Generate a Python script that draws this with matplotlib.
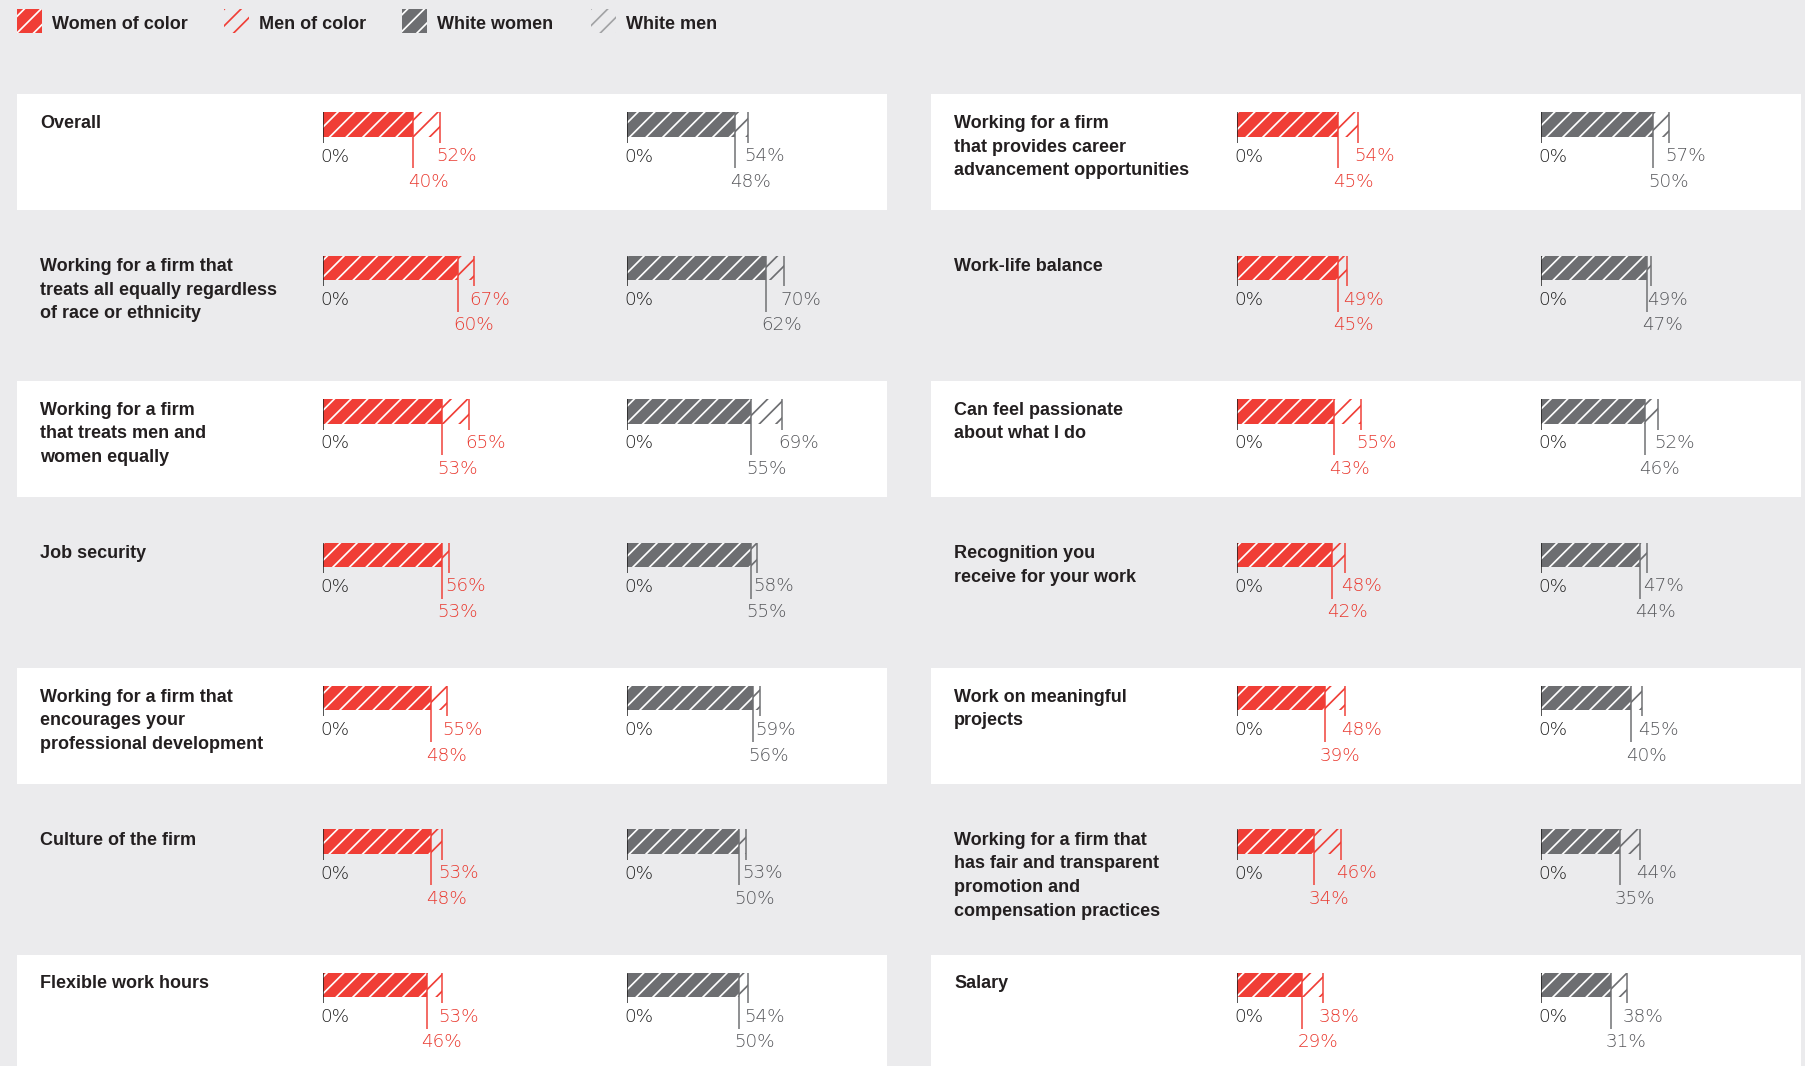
"""
Job factors chart - women/men of color vs white women/men
"""

import matplotlib.pyplot as plt
from matplotlib.patches import Rectangle

# data
legend_labels = ['Women of color', 'Men of color', 'White women', 'White men']

labels_left = [
    'Overall',
    'Working for a firm that\ntreats all equally regardless\nof race or ethnicity',
    'Working for a firm\nthat treats men and\nwomen equally',
    'Job security',
    'Working for a firm that\nencourages your\nprofessional development',
    'Culture of the firm',
    'Flexible work hours',
]
labels_right = [
    'Working for a firm\nthat provides career\nadvancement opportunities',
    'Work-life balance',
    'Can feel passionate\nabout what I do',
    'Recognition you\nreceive for your work',
    'Work on meaningful\nprojects',
    'Working for a firm that\nhas fair and transparent\npromotion and\ncompensation practices',
    'Salary',
]

woc_left = [40, 60, 53, 53, 48, 48, 46]
moc_left = [52, 67, 65, 56, 55, 53, 53]
ww_left = [48, 62, 55, 55, 56, 50, 50]
wm_left = [54, 70, 69, 58, 59, 53, 54]

woc_right = [45, 45, 43, 42, 39, 34, 29]
moc_right = [54, 49, 55, 48, 48, 46, 38]
ww_right = [50, 47, 46, 44, 40, 35, 31]
wm_right = [57, 49, 52, 47, 45, 44, 38]

# style
BG = '#ebebed'
RED = '#f03e36'
RED_TXT = '#e9382e'
GRAY = '#6d6e71'
GRAY_TXT = '#55565a'
LIGHT_GRAY = '#a2a3a5'
DARK = '#231f20'
ZERO = '#1e1e1e'

W, H = 1806, 1066
DPI = 100
ROW0 = 94.4
PITCH = 143.4
PANEL_H = 116
PANEL_W = 870
PANEL_X = [17, 931]
GROUP_DX = [306.5, 610.5]
SCALE = 2.24  # px per percent


def pt(px):
    # pixels -> points at the figure dpi
    return px * 72 / DPI


TITLE_FONT = dict(family='Liberation Sans', fontweight='bold', fontsize=pt(18), color=DARK)
NUM_FONT = dict(family='DejaVu Sans', fontweight='light', fontsize=pt(18.4))
LW = pt(1.5)

plt.rcParams['hatch.linewidth'] = pt(1.7)

fig = plt.figure(figsize=(W / DPI, H / DPI), dpi=DPI, facecolor=BG)
bg = fig.add_axes([0, 0, 1, 1])
bg.set_xlim(0, W)
bg.set_ylim(H, 0)
bg.axis('off')


def px_axes(x, y, w, h):
    return fig.add_axes([x / W, 1 - (y + h) / H, w / W, h / H])


def draw_group(ax, women, men, color, txt_color):
    ax.set_xlim(0, 100)
    ax.set_ylim(PANEL_H, 0)
    ax.axis('off')
    bar_y, bar_h = 30.15, 24.3
    ax.barh(bar_y, men, height=bar_h, color='none', edgecolor=color,
            hatch='//', linewidth=0)
    ax.barh(bar_y, women, height=bar_h, color=color, edgecolor='white',
            hatch='//', linewidth=0)
    ax.vlines(0, 18, 48.3, color=ZERO, lw=LW)
    ax.vlines(men, 18, 48.3, color=color, lw=LW)
    ax.vlines(women, 18, 74, color=color, lw=LW)
    ax.text(-1.3, 67.2, '0%', color=ZERO, va='baseline', **NUM_FONT)
    ax.text(men - 1.8, 66.8, f'{men}%', color=txt_color, va='baseline', **NUM_FONT)
    ax.text(women - 2.2, 92.6, f'{women}%', color=txt_color, va='baseline', **NUM_FONT)


columns = [
    (labels_left, woc_left, moc_left, ww_left, wm_left),
    (labels_right, woc_right, moc_right, ww_right, wm_right),
]

for c, (labels, woc, moc, ww, wm) in enumerate(columns):
    px = PANEL_X[c]
    for i, label in enumerate(labels):
        top = ROW0 + i * PITCH
        # white panel on every second row
        if i % 2 == 0:
            bg.add_patch(Rectangle((px, top), PANEL_W, PANEL_H, facecolor='white',
                                   edgecolor='none'))
        for k, line in enumerate(label.split('\n')):
            bg.text(px + 23, top + 33.5 + k * 23.6, line, va='baseline', **TITLE_FONT)

        ax1 = px_axes(px + GROUP_DX[0], top, 100 * SCALE, PANEL_H)
        draw_group(ax1, woc[i], moc[i], RED, RED_TXT)
        ax2 = px_axes(px + GROUP_DX[1], top, 100 * SCALE, PANEL_H)
        draw_group(ax2, ww[i], wm[i], GRAY, GRAY_TXT)

# legend
leg_x = [17, 224, 402, 591]
leg_face = [RED, 'none', GRAY, 'none']
leg_hatch = ['white', RED, 'white', LIGHT_GRAY]
for x, lab, fc, hc in zip(leg_x, legend_labels, leg_face, leg_hatch):
    bg.add_patch(Rectangle((x, 9.3), 25, 24, facecolor=fc, edgecolor=hc,
                           hatch='//', linewidth=0))
    bg.text(x + 35, 29.3, lab, va='baseline', **TITLE_FONT)

fig.savefig('out.png', dpi=DPI, facecolor=BG)
